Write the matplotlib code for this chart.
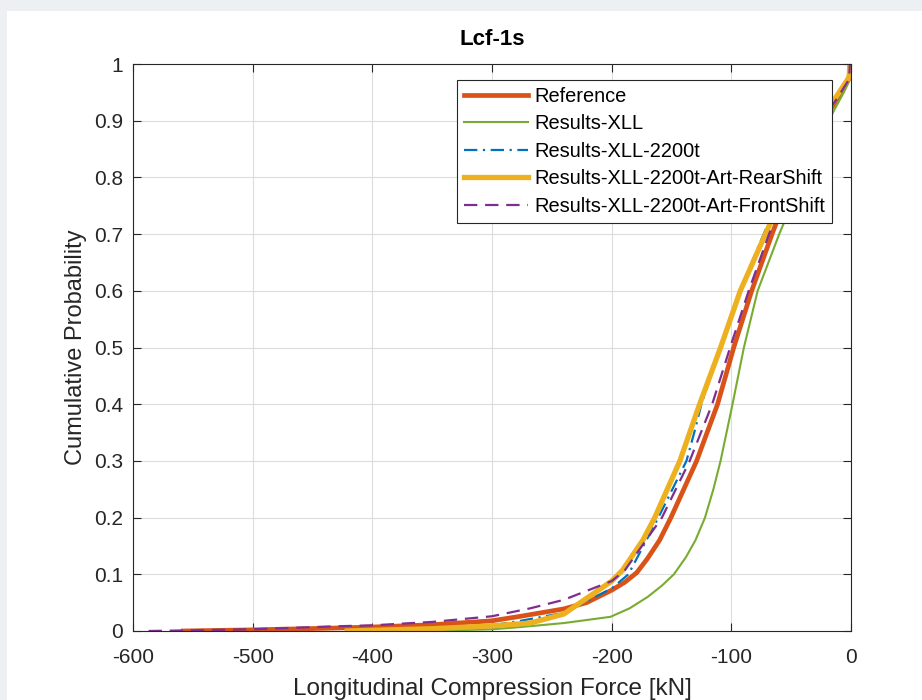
import matplotlib.pyplot as plt
from matplotlib.patches import Rectangle

plt.rcParams['font.family'] = ['Liberation Sans', 'DejaVu Sans']
plt.rcParams['axes.unicode_minus'] = False

ref_x = [-558, -500, -435, -400, -350, -300, -276, -240, -221, -200, -189, -179, -170, -160,
         -150.5, -129, -111.5, -98, -83, -66, -48, -30, -14, -4, -1.5, -1]
ref_y = [0.0, 0.002, 0.005, 0.007, 0.011, 0.018, 0.026, 0.039, 0.050, 0.072, 0.086, 0.103,
         0.128, 0.160, 0.200, 0.300, 0.400, 0.500, 0.600, 0.700, 0.800, 0.880, 0.930, 0.965,
         0.975, 1.0]

xll_x = [-380, -340, -300, -276, -240, -201, -185, -170, -158, -148, -138, -130, -122, -115,
         -109, -99, -89.5, -78, -60, -40, -22, -15, -6, -1.5, -1]
xll_y = [0.0, 0.001, 0.003, 0.007, 0.014, 0.025, 0.040, 0.060, 0.080, 0.100, 0.130, 0.160,
         0.200, 0.250, 0.300, 0.400, 0.500, 0.600, 0.700, 0.800, 0.880, 0.915, 0.950, 0.970,
         1.0]

t2200_x = [-410, -350, -300, -276, -240, -200, -186, -161, -137.5, -131, -125, -109, -93, -73,
           -52, -30, -13, -4, -1.5, -1]
t2200_y = [0.0, 0.004, 0.010, 0.018, 0.032, 0.075, 0.100, 0.200, 0.300, 0.350, 0.400, 0.500,
           0.600, 0.700, 0.800, 0.890, 0.935, 0.965, 0.975, 1.0]

rear_x = [-421, -350, -300, -268, -240, -200, -191, -174, -164, -143, -126.5, -109, -92.5,
          -71.5, -50, -28, -13, -3, -1.5, -1]
rear_y = [0.0, 0.004, 0.009, 0.014, 0.030, 0.088, 0.107, 0.160, 0.200, 0.300, 0.400, 0.500,
          0.600, 0.700, 0.800, 0.890, 0.940, 0.972, 0.978, 1.0]

front_x = [-587, -500, -435, -400, -350, -300, -268, -240, -200, -189, -158, -134.8, -116,
           -101, -85.5, -68.5, -48, -28, -13, -3, -1.5, -1]
front_y = [0.0, 0.003, 0.008, 0.010, 0.016, 0.026, 0.040, 0.055, 0.088, 0.107, 0.200, 0.300,
           0.400, 0.500, 0.600, 0.700, 0.800, 0.890, 0.935, 0.968, 0.975, 1.0]

labels = ['Reference', 'Results-XLL', 'Results-XLL-2200t',
          'Results-XLL-2200t-Art-RearShift', 'Results-XLL-2200t-Art-FrontShift']

fig = plt.figure(figsize=(9.22, 7.0), dpi=100, facecolor='#edf0f2')
fig.patches.append(Rectangle((7 / 922, 0), 1, 1 - 11 / 700, transform=fig.transFigure,
                             facecolor='white', edgecolor='none', zorder=-10))
ax = fig.add_axes([133 / 922, 1 - 631 / 700, 718 / 922, 567 / 700])
ax.set_zorder(1)

ax.plot(ref_x, ref_y, color='#D95319', lw=3.4, label=labels[0])
ax.plot(xll_x, xll_y, color='#77AC30', lw=1.5, label=labels[1])
ax.plot(t2200_x, t2200_y, color='#0072BD', lw=1.6, ls=(0, (6, 2.5, 1, 2.5)), label=labels[2])
ax.plot(rear_x, rear_y, color='#EDB120', lw=3.8, label=labels[3])
ax.plot(front_x, front_y, color='#7E2F8E', lw=1.6, ls=(0, (6, 3.5)), label=labels[4])

ax.set_xlim(-600, 0)
ax.set_ylim(0, 1)
ax.set_xticks(range(-600, 1, 100))
ax.set_yticks([i / 10 for i in range(11)])
ax.set_yticklabels(['0'] + ['%.1f' % (i / 10) for i in range(1, 10)] + ['1'])
ax.grid(True, color='#dcdcdc', lw=0.8)
ax.set_axisbelow(True)
ax.tick_params(direction='in', top=True, right=True, length=6, width=0.8,
               labelsize=15, colors='#262626')
ax.tick_params(axis='x', pad=12)
ax.tick_params(axis='y', pad=7)
for s in ax.spines.values():
    s.set_color('#262626')
    s.set_linewidth(0.8)

ax.set_title('Lcf-1s', fontsize=16, fontweight='bold', pad=14)
ax.set_xlabel('Longitudinal Compression Force [kN]', fontsize=17.5, color='#262626', labelpad=8)
ax.set_ylabel('Cumulative Probability', fontsize=17, color='#262626', labelpad=5)

leg = ax.legend(loc='upper right', bbox_to_anchor=(0.9735, 0.9718), borderaxespad=0,
                fontsize=14.4, fancybox=False, framealpha=1, edgecolor='#262626',
                handlelength=3.2, handletextpad=0.3, labelspacing=0.42, borderpad=0.35)
leg.get_frame().set_linewidth(0.8)

fig.savefig('out.png', dpi=100, facecolor=fig.get_facecolor())
